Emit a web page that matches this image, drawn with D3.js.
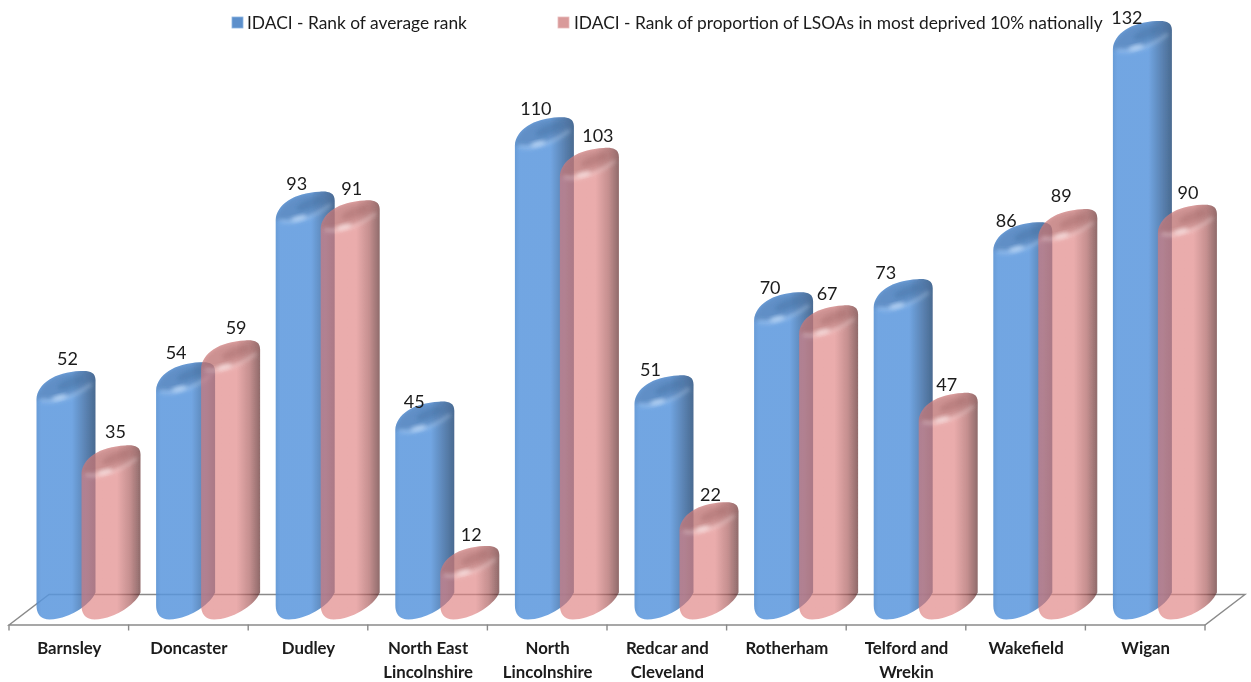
<!DOCTYPE html>
<html><head><meta charset="utf-8">
<script src="https://cdn.jsdelivr.net/npm/d3@7"></script>
<style>html,body{margin:0;padding:0;background:#fff}svg{display:block}text{font-family:Lato,"Open Sans",sans-serif;fill:#1a1a1a}</style>
</head><body><div id="chart"></div>
<script>
const categories=[["Barnsley"],["Doncaster"],["Dudley"],["North East","Lincolnshire"],["North","Lincolnshire"],["Redcar and","Cleveland"],["Rotherham"],["Telford and","Wrekin"],["Wakefield"],["Wigan"]];
const seriesNames=["IDACI - Rank of average rank","IDACI - Rank of proportion of LSOAs in most deprived 10% nationally"];
const averageRank=[52,54,93,45,110,51,70,73,86,132];
const proportionRank=[35,59,91,12,103,22,67,47,89,90];

const W=1251,H=682;
const svg=d3.select("#chart").append("svg").attr("width",W).attr("height",H);
const names=categories.map(c=>c.join(" "));
const x=d3.scaleBand().domain(names).range([9,1205]).padding(0);
const y=d3.scaleLinear().domain([0,132]).range([624.5,47]);
const bw=59, seriesOffset=[27.5,72.5];
const depthX=40, depthY=30;

const defs=svg.append("defs");
function grad(id,stops){
  const g=defs.append("linearGradient").attr("id",id).attr("x1",0).attr("x2",1).attr("y1",0).attr("y2",0);
  stops.forEach(s=>g.append("stop").attr("offset",s[0]).attr("stop-color",s[1]));
}
grad("g0",[[0,"#4f8bd0"],[.08,"#5996dd"],[.6,"#5996dd"],[.82,"#3f6fa8"],[1,"#2a507d"]]);
grad("g1",[[0,"#d97a7a"],[.08,"#df8181"],[.6,"#df8181"],[.82,"#a85656"],[1,"#551e1e"]]);
defs.append("filter").attr("id","b2").attr("x","-50%").attr("y","-50%").attr("width","200%").attr("height","200%").append("feGaussianBlur").attr("stdDeviation",2.2);
defs.append("filter").attr("id","b3").attr("x","-50%").attr("y","-50%").attr("width","200%").attr("height","200%").append("feGaussianBlur").attr("stdDeviation",3);
defs.append("filter").attr("id","soft").attr("x","-5%").attr("y","-5%").attr("width","110%").attr("height","110%").append("feGaussianBlur").attr("stdDeviation",0.5);

const root=svg.append("g").attr("filter","url(#soft)");

// floor
const floorG=root.append("g").attr("fill","none").attr("stroke","#8a8a8a").attr("stroke-width",1.4);
const [x0,x1]=x.range(), base=y(0);
floorG.append("path").attr("d",`M${x0},${base+.5}L${x1},${base+.5}L${x1+depthX},${base-depthY}L${x0+depthX},${base-depthY}Z`);
floorG.selectAll("line").data(names.concat([null])).join("line")
  .attr("x1",(d,i)=>d?x(d):x1).attr("x2",(d,i)=>d?x(d):x1)
  .attr("y1",base).attr("y2",base+6);

function topEdge(l,sh){
  return `M${l},${sh+2}`+
   `C${l+1},${sh-13} ${l+18},${sh-25} ${l+44},${sh-26}`+
   `C${l+53},${sh-26.5} ${l+bw},${sh-25} ${l+bw},${sh-17}`;
}
function bodyPath(l,sh,b){
  return topEdge(l,sh)+
   `L${l+bw},${b-32}`+
   `C${l+bw-6},${b-18} ${l+30},${b-5} ${l+13},${b-5}`+
   `C${l+4},${b-5} ${l},${b-11} ${l},${b-19}Z`;
}
function capPath(l,sh){
  return topEdge(l,sh)+`C${l+50},${sh-8} ${l+28},${sh+5} ${l},${sh+2}Z`;
}
const capCol=["#4a6f9f","#a26c6c"], rimCol=["#cfe6ff","#fff0f0"], centerCol=["#3c6595","#955c5c"], alpha=[.85,.66];
const nudge=[[31,20,21,19,21,16,16,12,13,14],[34,35,31,31,38,31,28,28,23,30]];
const labelLift=[[32.5,29.5,28,19.5,28.5,25.5,24.5,26.5,21.5,23.5],[33.5,32.5,31.5,31.5,31.5,27.5,31.5,27.5,33.5,31.5]];
const series=[averageRank,proportionRank];

series.forEach((vals,si)=>{
  const gs=root.append("g").attr("class","series-"+si);
  const bars=gs.selectAll("g").data(vals.map((v,i)=>({v,name:names[i]}))).join("g");
  bars.each(function(d,i){
    const g=d3.select(this), l=x(d.name)+seriesOffset[si], sh=y(d.v), id=`c${si}_${i}`;
    defs.append("clipPath").attr("id",id).append("path").attr("d",bodyPath(l,sh,base));
    g.append("path").attr("d",bodyPath(l,sh,base)).attr("fill",`url(#g${si})`).attr("fill-opacity",alpha[si]);
    const c=g.append("g").attr("clip-path",`url(#${id})`);
    c.append("path").attr("d",capPath(l,sh)).attr("fill",capCol[si]).attr("fill-opacity",.42).attr("filter","url(#b2)");
    c.append("ellipse").attr("cx",l+34).attr("cy",sh-14).attr("rx",14).attr("ry",4.5)
      .attr("transform",`rotate(-22 ${l+34} ${sh-14})`).attr("fill",centerCol[si]).attr("fill-opacity",.3).attr("filter","url(#b2)");
    c.append("path").attr("d",`M${l+4},${sh+3}C${l+20},${sh+7} ${l+38},${sh-1} ${l+bw-4},${sh-13}`)
      .attr("fill","none").attr("stroke",rimCol[si]).attr("stroke-width",3).attr("stroke-opacity",.4).attr("filter","url(#b2)");
    c.append("ellipse").attr("cx",l+23).attr("cy",sh+0.5).attr("rx",8).attr("ry",2.2)
      .attr("transform",`rotate(-14 ${l+23} ${sh})`).attr("fill",rimCol[si]).attr("fill-opacity",.8).attr("filter","url(#b2)");
  });
});
// value labels
series.forEach((vals,si)=>{
  root.append("g").selectAll("text").data(vals).join("text")
   .attr("x",(v,i)=>x(names[i])+seriesOffset[si]+nudge[si][i])
   .attr("y",(v,i)=>y(v)-labelLift[si][i])
   .attr("text-anchor","middle").attr("font-size",18).text(v=>v);
});
// category labels
const cat=root.append("g").selectAll("text").data(categories).join("text")
  .attr("text-anchor","middle").attr("font-size",16.8).attr("font-weight",700);
cat.each(function(c,i){
  const t=d3.select(this), cx=x(names[i])+x.bandwidth()/2+0.5;
  t.selectAll("tspan").data(c).join("tspan").attr("x",cx).attr("y",(d,j)=>654+j*24).text(d=>d);
});
// legend
const legendX=[232,558], legendText=[247,574], sw=11;
const lg=root.append("g").selectAll("g").data(seriesNames).join("g");
lg.append("rect").attr("x",(d,i)=>legendX[i]).attr("y",17).attr("width",sw).attr("height",sw)
  .attr("fill",(d,i)=>i?"#d99a9a":"#5b8fcb").attr("stroke",(d,i)=>i?"#e8bcbc":"#8db4e2").attr("stroke-width",.8);
lg.append("text").attr("x",(d,i)=>legendText[i]).attr("y",29).attr("font-size",17.35).text(d=>d);
</script></body></html>
